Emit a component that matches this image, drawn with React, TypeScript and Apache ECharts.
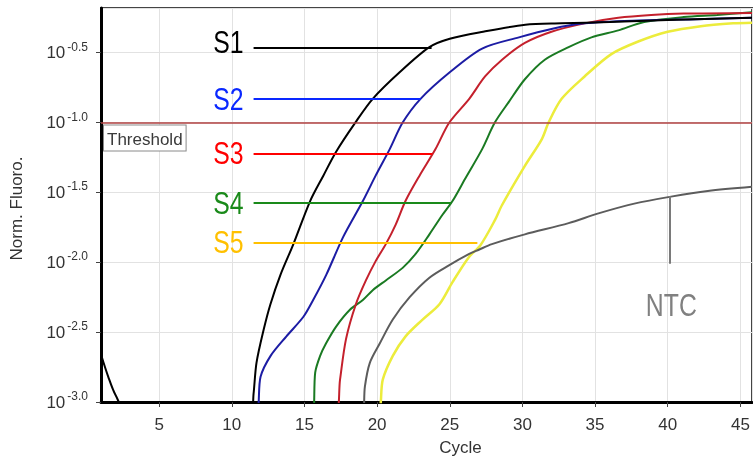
import React, { useEffect, useRef } from 'react';
import * as echarts from 'echarts';

// Readings: [cycle, log10(normalised fluorescence)]; values below -3 are under the axis floor
const s1: number[][] = [[1,-2.66],[1.5,-2.82],[2,-2.95],[3,-3.1],[11.3,-3.1],[11.5,-2.94],[11.7,-2.72],[12.2,-2.48],[12.66,-2.3],[13.35,-2.09],[14.24,-1.87],[15.4,-1.56],[16.3,-1.38],[17.17,-1.21],[18.5,-1.0],[19.7,-0.83],[21.55,-0.64],[23.6,-0.46],[25,-0.4],[27.3,-0.35],[30.2,-0.3],[32.7,-0.29],[36,-0.28],[40,-0.265],[45.8,-0.25]];
const s2: number[][] = [[1,-3.1],[11.6,-3.1],[11.98,-2.82],[12.67,-2.67],[13.76,-2.53],[14.93,-2.39],[15.6,-2.27],[16.5,-2.09],[17.66,-1.82],[19.03,-1.56],[19.9,-1.38],[20.87,-1.19],[21.76,-1.0],[22.99,-0.83],[25,-0.64],[27.23,-0.47],[29.76,-0.39],[32,-0.33],[34.3,-0.29],[38,-0.27],[42,-0.26],[45.8,-0.25]];
const s3: number[][] = [[1,-3.1],[17.12,-3.1],[17.45,-2.84],[17.86,-2.55],[18.54,-2.3],[19.23,-2.13],[19.91,-1.99],[20.6,-1.87],[21.28,-1.73],[21.96,-1.56],[22.92,-1.38],[24.02,-1.19],[24.97,-1.0],[26.34,-0.83],[27.43,-0.67],[28.6,-0.55],[30.17,-0.43],[32,-0.35],[34.28,-0.29],[36.6,-0.25],[38.86,-0.23],[41.1,-0.22],[45.8,-0.215]];
const s4: number[][] = [[1,-3.1],[15.55,-3.1],[15.74,-2.79],[16.08,-2.67],[16.49,-2.58],[17.18,-2.46],[18.13,-2.34],[19.02,-2.27],[19.7,-2.2],[20.6,-2.13],[21.76,-2.04],[22.65,-1.94],[23.6,-1.8],[24.5,-1.66],[25.2,-1.56],[26.07,-1.4],[27.23,-1.19],[28.1,-1.0],[29.08,-0.85],[30.17,-0.69],[31.54,-0.55],[33.18,-0.46],[34.75,-0.39],[36.6,-0.34],[38.38,-0.28],[41.1,-0.245],[43.4,-0.23],[45.8,-0.21]];
const s5: number[][] = [[1,-3.1],[19.95,-3.1],[20.39,-2.84],[21.08,-2.67],[21.96,-2.53],[23.13,-2.41],[24.29,-2.3],[25.2,-2.14],[26.34,-1.96],[27.1,-1.88],[28.1,-1.7],[28.6,-1.59],[30.17,-1.31],[31.33,-1.12],[31.8,-1.0],[32.7,-0.83],[34.28,-0.67],[36.12,-0.51],[37.97,-0.42],[40,-0.35],[42.28,-0.31],[44.5,-0.29],[45.8,-0.285]];
const ntc: number[][] = [[1,-3.1],[18.98,-3.1],[19.16,-2.89],[19.5,-2.72],[20.19,-2.58],[21.08,-2.41],[22.24,-2.25],[23.6,-2.11],[24.97,-2.02],[26.34,-1.94],[27,-1.91],[27.9,-1.87],[30.17,-1.8],[33.18,-1.72],[35.23,-1.65],[37.7,-1.58],[40.23,-1.53],[42.76,-1.49],[45.8,-1.46]];

const thresholdValue = -1.0;
const seriesNames = ['S1', 'S2', 'S3', 'S4', 'S5', 'NTC'];
// annotation leader lines: level (log10) and end cycle, starting at cycle 11.5
const tagLevels = [-0.465, -0.833, -1.222, -1.577, -1.86];
const tagEnds = [23.75, 23.0, 23.8, 25.1, 26.9];

const SANS = '"Liberation Sans", Arial, sans-serif';

export default function App() {
  const ref = useRef<HTMLDivElement>(null);
  useEffect(() => {
    if (!ref.current) return;
    const chart = echarts.init(ref.current, null, { renderer: 'svg' });

    const tagColors = ['#000000', '#0a28ff', '#ff0000', '#1a8a1a', '#ffc000'];
    const tagStart = 11.5;
    const tag = (i: number) => ({
      symbol: 'none', silent: true, animation: false,
      data: [[{ coord: [tagStart, tagLevels[i]] }, { coord: [tagEnds[i], tagLevels[i]] }]] as any[],
      lineStyle: { color: tagColors[i], width: 2, type: 'solid' },
      label: { show: false },
    });

    const s1Mark: any = tag(0);
    s1Mark.data.push({
      yAxis: thresholdValue,
      lineStyle: { color: '#b04040', width: 1.5, type: 'solid' },
      label: {
        show: true, position: 'insideStartBottom', formatter: 'Threshold', color: '#3a3a3a', fontSize: 17,
        fontFamily: SANS, backgroundColor: '#fff', borderColor: '#8a8a8a', borderWidth: 1, padding: [5, 3, 3, 3], distance: 3,
      },
    });

    const line = (name: string, data: number[][], color: string, width: number, markLine: any) => ({
      type: 'line', name, data, symbol: 'none', showSymbol: false, clip: true, smooth: 0.3,
      lineStyle: { color, width }, itemStyle: { color }, markLine,
    });

    chart.setOption({
      animation: false,
      grid: { left: 97, right: 1, top: 8, bottom: 55, show: true, borderColor: '#444', borderWidth: 2 },
      xAxis: {
        type: 'value', min: 1, max: 45.8, splitNumber: 9, minInterval: 5, maxInterval: 5,
        name: 'Cycle', nameLocation: 'middle', nameGap: 37,
        nameTextStyle: { fontSize: 17, color: '#333', fontFamily: SANS, padding: [0, 0, 0, 68] },
        axisLine: { lineStyle: { color: '#000', width: 3 } },
        axisTick: { show: true, length: 5, lineStyle: { color: '#444' } },
        axisLabel: { fontSize: 17, color: '#333', fontFamily: SANS, margin: 14, showMinLabel: false, showMaxLabel: false },
        splitLine: { show: true, lineStyle: { color: '#e2e2e2', width: 1 } },
      },
      yAxis: {
        type: 'value', min: -3, max: -0.18, interval: 0.5,
        name: 'Norm. Fluoro.', nameLocation: 'middle', nameGap: 76,
        nameTextStyle: { fontSize: 17, color: '#333', fontFamily: SANS, padding: [0, 7, 0, 0] },
        axisLine: { lineStyle: { color: '#000', width: 3 } },
        axisTick: { show: true, length: 5, lineStyle: { color: '#444' } },
        axisLabel: {
          margin: 13, showMaxLabel: false,
          formatter: (v: number) => `{b|10}{s|${v.toFixed(1)}}`,
          rich: {
            b: { fontSize: 17, color: '#333', fontFamily: SANS, lineHeight: 24, verticalAlign: 'middle' },
            s: { fontSize: 12, color: '#333', fontFamily: SANS, lineHeight: 6, verticalAlign: 'top', padding: [0, 0, 0, 2] },
          },
        },
        splitLine: { show: true, lineStyle: { color: '#e2e2e2', width: 1 } },
      },
      series: [
        line(seriesNames[4], s5, '#ecec3c', 2.5, tag(4)),
        line(seriesNames[3], s4, '#1a7a22', 2, tag(3)),
        line(seriesNames[2], s3, '#c4202c', 2, tag(2)),
        line(seriesNames[1], s2, '#1c1ca4', 2, tag(1)),
        line(seriesNames[5], ntc, '#5c5c5c', 2, {
          symbol: 'none', silent: true, animation: false,
          data: [[{ coord: [40.16, -1.527] }, { coord: [40.16, -2.01] }]],
          lineStyle: { color: '#7a7a7a', width: 2, type: 'solid' },
          label: { show: false },
        }),
        line(seriesNames[0], s1, '#000000', 2, s1Mark),
      ],
    });

    // condensed annotation texts placed from data coordinates
    const font = `31px ${SANS}`;
    const texts: any[] = tagLevels.map((lvl, i) => {
      const p = chart.convertToPixel({ gridIndex: 0 }, [tagStart, lvl]) as number[];
      return {
        type: 'text', x: p[0] - 10, y: p[1] + (i === 0 ? -5 : 0), scaleX: 0.8, silent: true,
        style: { text: seriesNames[i], fill: tagColors[i], font, align: 'right', verticalAlign: 'middle' },
      };
    });
    const pn = chart.convertToPixel({ gridIndex: 0 }, [40.25, -2.31]) as number[];
    texts.push({
      type: 'text', x: pn[0], y: pn[1], scaleX: 0.8, silent: true,
      style: { text: seriesNames[5], fill: '#808080', font, align: 'center', verticalAlign: 'middle' },
    });
    chart.setOption({ graphic: texts });

    return () => chart.dispose();
  }, []);
  return <div ref={ref} style={{ position: 'fixed', left: 0, top: 0, width: 753, height: 461 }} />;
}
